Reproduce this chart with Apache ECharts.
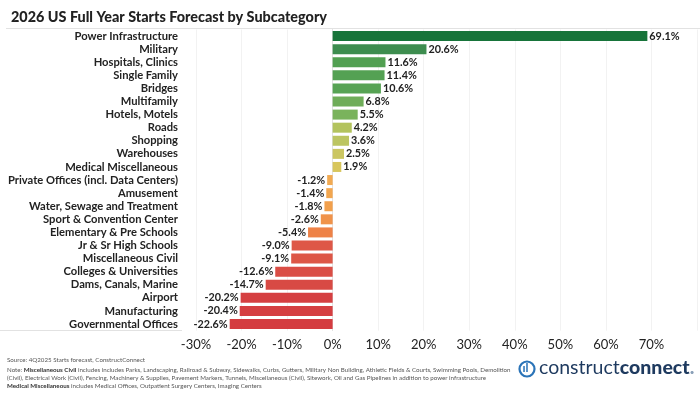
<!DOCTYPE html>
<html><head><meta charset="utf-8">
<script src="https://cdn.jsdelivr.net/npm/echarts@6/dist/echarts.min.js"></script>
<style>html,body{margin:0;padding:0;background:#fff}#c{width:700px;height:394px}</style>
</head><body><div id="c"></div>
<script>
const categories = ["Power Infrastructure","Military","Hospitals, Clinics","Single Family","Bridges","Multifamily","Hotels, Motels","Roads","Shopping","Warehouses","Medical Miscellaneous","Private Offices (incl. Data Centers)","Amusement","Water, Sewage and Treatment","Sport & Convention Center","Elementary & Pre Schools","Jr & Sr High Schools","Miscellaneous Civil","Colleges & Universities","Dams, Canals, Marine","Airport","Manufacturing","Governmental Offices"];
const values = [69.1,20.6,11.6,11.4,10.6,6.8,5.5,4.2,3.6,2.5,1.9,-1.2,-1.4,-1.8,-2.6,-5.4,-9.0,-9.1,-12.6,-14.7,-20.2,-20.4,-22.6];
const barColors = ["#17743a","#3d8d4f","#52a052","#54a153","#57a354","#6fad59","#7ab35c","#b3c35d","#bcc561","#cbc662","#d8c65c","#f2aa52","#f2a64f","#f2a04c","#f0934a","#ee8247","#de5747","#dd5646","#da4d45","#d84a44","#d53f41","#d53f41","#d43c40"];
const xTicks = [-30,-20,-10,0,10,20,30,40,50,60,70];
const titleText = "2026 US Full Year Starts Forecast by Subcategory";

const F = "Lato, 'Open Sans', sans-serif";
const chart = echarts.init(document.getElementById('c'), null, {renderer:'canvas'});
chart.setOption({
  animation:false,
  backgroundColor:'#fff',
  title:{text:titleText,left:6,top:5,textStyle:{fontFamily:F,fontWeight:900,fontSize:14.4,color:'#222'}},
  grid:{left:196,right:-4,top:29.5,bottom:63.4,containLabel:false},
  xAxis:{type:'value',min:-30,max:80,interval:10,
    axisLine:{show:false},axisTick:{show:false},
    splitLine:{show:true,lineStyle:{color:'#f2f2f2',width:1}},
    axisLabel:{color:'#222',fontSize:13,fontFamily:F,margin:8,
      formatter:v=>xTicks.indexOf(v)>=0? v+'%':''}},
  yAxis:{type:'category',data:categories,inverse:true,offset:14,
    axisLine:{show:true,lineStyle:{color:'#e2e2e2'}},axisTick:{show:false},
    axisLabel:{interval:0,color:'#222',fontSize:11.2,fontWeight:'bold',fontFamily:F,margin:4}},
  series:[{type:'bar',barWidth:10,
    data:values.map((v,i)=>({value:v,itemStyle:{color:barColors[i]},
      label:{position:v>=0?'right':'left'}})),
    label:{show:true,distance:2,fontSize:10.8,fontWeight:'bold',color:'#222',fontFamily:F,
      formatter:p=>p.value.toFixed(1)+'%'}}],
  graphic:[
    {type:'line',shape:{x1:6,y1:28.5,x2:700,y2:28.5},style:{stroke:'#e2e2e2',lineWidth:1}},
    {type:'line',shape:{x1:0,y1:330.5,x2:182,y2:330.5},style:{stroke:'#e2e2e2',lineWidth:1}},
    {type:'text',left:7,top:357,style:{text:'Source: 4Q2025 Starts forecast, ConstructConnect',font:"6.2px "+F,fill:'#555'}},
    {type:'text',left:7,top:365.5,style:{
      text:'Note: {b|Miscellaneous Civil} includes includes Parks, Landscaping, Railroad & Subway, Sidewalks, Curbs, Gutters, Military Non Building, Athletic Fields & Courts, Swimming Pools, Demolition\n(Civil), Electrical Work (Civil), Fencing, Machinery & Supplies, Pavement Markers, Tunnels, Miscellaneous (Civil), Sitework, Oil and Gas Pipelines in addition to power infrastructure\n{b|Medical Miscellaneous} includes Medical Offices, Outpatient Surgery Centers, Imaging Centers',
      font:"6.2px "+F,fill:'#555',lineHeight:8.3,
      rich:{b:{fontWeight:'bold',fontSize:6.2,fontFamily:F,fill:'#333',lineHeight:8.3}}}},
    {type:'circle',shape:{cx:527,cy:369,r:7.5},style:{fill:'none',stroke:'#2b74b8',lineWidth:2.2}},
    {type:'text',left:522.5,top:362,style:{text:'ıl',font:"bold 12px Lato",fill:'#2b74b8'}},
    {type:'text',left:539,top:358,style:{text:'{a|construct}{b|connect}{c|.}',
      rich:{a:{fontSize:19.5,fontFamily:F,fill:'#1e3a5f'},b:{fontSize:19.5,fontWeight:900,fontFamily:F,fill:'#1e3a5f'},c:{fontSize:19.5,fontWeight:900,fontFamily:F,fill:'#8aa0b8'}}}}
  ]
});
</script></body></html>
